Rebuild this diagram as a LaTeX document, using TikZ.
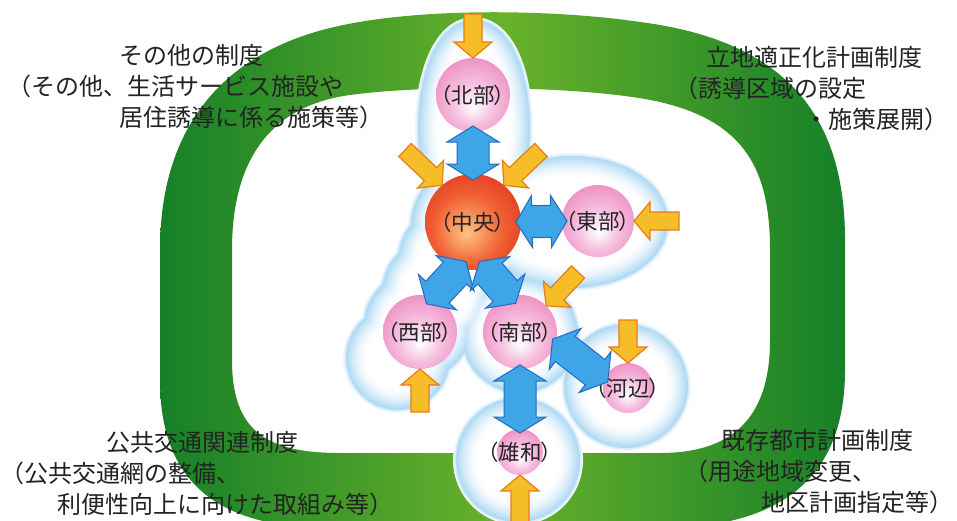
\documentclass[tikz,border=0pt]{standalone}
\usepackage{fontspec}
\setmainfont{Noto Sans CJK JP}
\newfontfamily\tagfont{Noto Sans CJK JP}[RawFeature={+palt}]
\usetikzlibrary{calc}

\definecolor{ringdark}{RGB}{22,128,40}
\definecolor{ringlight}{RGB}{105,178,42}
\definecolor{bubble}{RGB}{158,210,242}
\definecolor{pinkedge}{RGB}{232,112,176}
\definecolor{pinkmid}{RGB}{246,192,224}
\definecolor{redcore}{RGB}{252,196,130}
\definecolor{redmid}{RGB}{242,96,52}
\definecolor{rededge}{RGB}{212,28,16}
\definecolor{feedfill}{RGB}{245,190,40}
\definecolor{feedline}{RGB}{236,122,22}
\definecolor{linkfill}{RGB}{62,166,230}
\definecolor{linkline}{RGB}{36,106,190}
\definecolor{txt}{RGB}{35,35,35}

\pgfdeclareradialshading{pinkball}{\pgfpoint{0bp}{-8bp}}{color(0bp)=(white);color(14bp)=(pinkmid);color(40bp)=(pinkedge);color(50bp)=(pinkedge)}
\pgfdeclareradialshading{redball}{\pgfpoint{-4bp}{-6bp}}{color(0bp)=(redcore);color(18bp)=(redmid);color(42bp)=(rededge);color(50bp)=(rededge)}

\tikzset{
  ball/.style={circle, inner sep=0pt, outer sep=0pt, shade, shading=pinkball},
  core/.style={circle, inner sep=0pt, outer sep=0pt, shade, shading=redball},
  tag/.style={font=\tagfont\fontsize{21.5}{23}\selectfont, text=txt, inner sep=0pt},
  policy/.style={font=\fontsize{24}{31}\selectfont, text=txt, align=left, inner sep=0pt, anchor=base west},
  feedarrow/.style={fill=feedfill, draw=feedline, line width=1.2pt},
  linkarrow/.style={fill=linkfill, draw=linkline, line width=1pt},
}

% light blue area round the districts
\newcommand\bubblepath{%
  (474,128) ellipse [x radius=36, y radius=88]
  (572,222) ellipse [x radius=76, y radius=46]
  (473,225) circle [radius=42]
  (398,358) circle [radius=32] (418,325) circle [radius=34]
  (436,292) circle [radius=34] (452,260) circle [radius=34]
  (520,335) circle [radius=38]
  (626,386) circle [radius=42]
  (518,460) circle [radius=42]}

% single block arrow, tail #1 to tip #2
\newcommand\feedarrow[2]{%
  \path[feedarrow] let \p1=(#1), \p2=(#2), \n1={atan2(\y2-\y1,\x2-\x1)} in
    ($(\p1)+(\n1+90:9pt)$) -- ($(\p2)+(\n1+180:16pt)+(\n1+90:9pt)$)
    -- ($(\p2)+(\n1+180:16pt)+(\n1+90:19pt)$) -- (\p2)
    -- ($(\p2)+(\n1+180:16pt)+(\n1-90:19pt)$) -- ($(\p2)+(\n1+180:16pt)+(\n1-90:9pt)$)
    -- ($(\p1)+(\n1-90:9pt)$) -- cycle;}

% double block arrow, tips pushed #1 into both ends
\newcommand\linkarrow[3][0]{%
  \path[linkarrow] let \p1=(#2), \p2=(#3), \n1={atan2(\y2-\y1,\x2-\x1)},
      \p3=($(\p1)+(\n1+180:#1pt)$), \p4=($(\p2)+(\n1:#1pt)$) in
    (\p3) -- ($(\p3)+(\n1:16pt)+(\n1+90:26pt)$) -- ($(\p3)+(\n1:16pt)+(\n1+90:16pt)$)
    -- ($(\p4)+(\n1+180:16pt)+(\n1+90:16pt)$) -- ($(\p4)+(\n1+180:16pt)+(\n1+90:26pt)$)
    -- (\p4)
    -- ($(\p4)+(\n1+180:16pt)+(\n1-90:26pt)$) -- ($(\p4)+(\n1+180:16pt)+(\n1-90:16pt)$)
    -- ($(\p3)+(\n1:16pt)+(\n1-90:16pt)$) -- ($(\p3)+(\n1:16pt)+(\n1-90:26pt)$) -- cycle;}

\begin{document}
\begin{tikzpicture}[x=1pt, y=-1pt]
\useasboundingbox[fill=white] (0,0) rectangle (957,520);

% green ring
\shade[even odd rule, left color=ringdark, right color=ringdark, middle color=ringlight]
  (160,250) -- (160,380) .. controls (160,480) and (215,528) .. (330,528) -- (660,528)
  .. controls (790,528) and (845,470) .. (845,370) -- (845,240)
  .. controls (845,110) and (780,40) .. (640,22) .. controls (560,10) and (420,6) .. (330,28)
  .. controls (220,55) and (160,130) .. (160,250) -- cycle
  (232,250) -- (232,360) .. controls (232,430) and (265,453) .. (340,453) -- (660,453)
  .. controls (740,453) and (770,410) .. (770,340) -- (770,250)
  .. controls (770,170) and (745,122) .. (660,102) .. controls (590,86) and (430,84) .. (350,95)
  .. controls (270,106) and (232,160) .. (232,250) -- cycle;

\foreach \w/\c in {46/15,43/40,40/80,36/70,32/58,28/47,24/37,20/28,16/20,12/13,8/7,4/3}
  \path[fill=bubble!\c!white, draw=bubble!\c!white, line width=\w pt] \bubblepath;
\path[fill=white] \bubblepath;

\node[ball, minimum size=74pt] (hokubu) at (473,95) {};
\node[core, minimum size=96pt] (chuo) at (473,222) {};
\node[ball, minimum size=72pt] (tobu) at (598,221) {};
\node[ball, minimum size=74pt] (seibu) at (420,332) {};
\node[ball, minimum size=74pt] (nanbu) at (520,332) {};
\node[ball, minimum size=50pt] (kawabe) at (628,388) {};
\node[ball, minimum size=46pt] (yuwa) at (520,452) {};

\foreach \n/\t in {hokubu/北部,chuo/中央,tobu/東部,seibu/西部,nanbu/南部,kawabe/河辺,yuwa/雄和}
  \node[tag] (\n-tag) at (\n) {（\t）};

\linkarrow[6]{hokubu.-90}{chuo.90}
\linkarrow[5]{chuo.0}{tobu.180}
\linkarrow[9]{chuo.-106}{seibu.70}
\linkarrow[9]{chuo.-75}{nanbu.106}
\linkarrow[4]{nanbu.-15}{kawabe.160}
\linkarrow[4]{nanbu.-90}{yuwa.90}

\coordinate (inN) at (473,14);
\coordinate (inCL) at (405,150);
\coordinate (inCR) at (541,150);
\coordinate (inE) at (679,221);
\coordinate (inW) at (420,412);
\coordinate (inS) at (578,272);
\coordinate (inK) at (628,320);
\coordinate (inY) at (520,524);
\feedarrow{inN}{hokubu.90}
\feedarrow{inCL}{chuo.130}
\feedarrow{inCR}{chuo.50}
\feedarrow{inE}{tobu.0}
\feedarrow{inW}{seibu.-90}
\feedarrow{inS}{nanbu.45}
\feedarrow{inK}{kawabe.90}
\feedarrow{inY}{yuwa.-90}

\node[policy] (other) at (7,126)
  {\hspace*{112pt}その他の制度\\（その他、生活サービス施設や\\\hspace*{112pt}居住誘導に係る施策等）};
\node[policy] (siting) at (674,128)
  {\hspace*{32pt}立地適正化計画制度\\（誘導区域の設定\\\hspace*{130pt}・施策展開）};
\node[policy] (transit) at (0,513)
  {\hspace*{106pt}公共交通関連制度\\（公共交通網の整備、\\\hspace*{57pt}利便性向上に向けた取組み等）};
\node[policy] (existing) at (684,511)
  {\hspace*{37pt}既存都市計画制度\\（用途地域変更、\\\hspace*{77pt}地区計画指定等）};
\end{tikzpicture}
\end{document}
